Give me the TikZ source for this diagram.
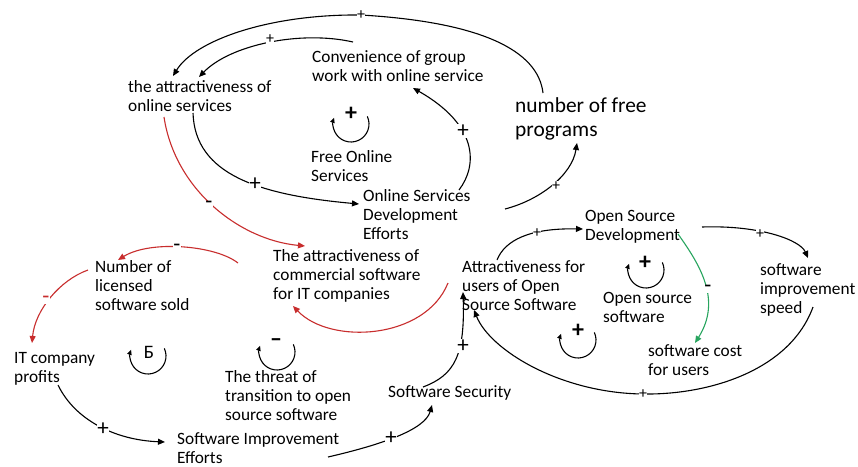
\documentclass[tikz,border=0pt]{standalone}
\usepackage{fontspec}
\setmainfont{Carlito}
\usetikzlibrary{arrows.meta}
\definecolor{cldred}{RGB}{200,45,45}
\definecolor{cldgreen}{RGB}{40,165,95}
\begin{document}
\begin{tikzpicture}[x=1pt,y=-1pt,
  lbl/.style={anchor=west,align=left,inner sep=0pt,font=\fontsize{17.3}{19}\selectfont},
  biglbl/.style={anchor=west,align=left,inner sep=0pt,font=\fontsize{21.4}{24}\selectfont},
  conn/.style={line width=1.1pt,-{Triangle[length=7pt,width=6pt]}},
  redconn/.style={conn,draw=cldred,fill=none},
  greenconn/.style={conn,draw=cldgreen},
  sgn/.style={fill=white,inner sep=0.5pt,font=\fontsize{23}{23}\selectfont},
  smallsgn/.style={fill=white,inner sep=0.5pt,font=\fontsize{16}{16}\selectfont},
  loopc/.style={line width=1.1pt,-{Triangle[length=5pt,width=4.5pt]}},
  loopsgn/.style={inner sep=0pt,font=\fontsize{24}{24}\selectfont\bfseries}
]
\fill[white] (0,0) rectangle (858,466);
\useasboundingbox (0,0) rectangle (858,466);

% variables
\node[lbl] (aos) at (128,96) {the attractiveness of\\online services};
\node[lbl] (conv) at (312,66) {Convenience of group\\work with online service};
\node[lbl] (fos) at (311,166.5) {Free Online\\Services};
\node[biglbl] (nfp) at (515,119) {number of free\\programs};
\node[lbl] (osde) at (363,215) {Online Services\\Development\\Efforts};
\node[lbl] (acs) at (273,276) {The attractiveness of\\commercial software\\for IT companies};
\node[lbl] (nls) at (95,286) {Number of\\licensed\\software sold};
\node[lbl] (itp) at (14,369) {IT company\\profits};
\node[lbl] (thr) at (225,396) {The threat of\\transition to open\\source software};
\node[lbl] (sie) at (177,448.5) {Software Improvement\\Efforts};
\node[lbl] (ss) at (388,393) {Software Security};
\node[lbl] (afu) at (462,286) {Attractiveness for\\users of Open\\Source Software};
\node[lbl] (osd) at (585,227) {Open Source\\Development};
\node[lbl] (oss) at (603,307) {Open source\\software};
\node[lbl] (scu) at (648,360) {software cost\\for users};
\node[lbl] (sis) at (760,290) {software\\improvement\\speed};

% connector end points
\coordinate (nfpTop) at (543,93);
\coordinate (topMid) at (361,15);
\coordinate (aosIn1) at (173,76);
\coordinate (convOut) at (353,42);
\coordinate (aosIn2) at (199,77);
\coordinate (aosOut1) at (193,113);
\coordinate (osdeIn) at (359,204);
\coordinate (osdeOut1) at (459,190);
\coordinate (convIn) at (413,88);
\coordinate (osdeOut2) at (505,209);
\coordinate (nfpIn) at (577,143);
\coordinate (aosOut2) at (164,117);
\coordinate (acsIn1) at (305,246);
\coordinate (acsOut) at (238,263);
\coordinate (nlsIn) at (118,260);
\coordinate (nlsOut) at (88,270);
\coordinate (itpIn) at (32,343);
\coordinate (itpOut) at (58,385);
\coordinate (sieIn) at (165,442);
\coordinate (sieOut) at (328,457);
\coordinate (ssIn) at (432,405);
\coordinate (ssOut) at (423,387);
\coordinate (afuIn1) at (463,292);
\coordinate (afuOut1) at (448,283);
\coordinate (acsIn2) at (293,306);
\coordinate (afuOut2) at (497,260);
\coordinate (osdIn) at (583,229);
\coordinate (osdOut1) at (702,227);
\coordinate (sisIn) at (808,258);
\coordinate (sisOut) at (813,307);
\coordinate (botMid) at (643,394);
\coordinate (afuIn2) at (474,310);
\coordinate (osdOut2) at (678,234);
\coordinate (scuIn) at (695,343);

% black connectors
\draw[conn] (nfpTop) .. controls (538,50) and (480,22) .. (topMid)
  .. controls (270,14) and (195,40) .. (aosIn1);
\draw[conn] (convOut) .. controls (300,30) and (230,45) .. (aosIn2);
\draw[conn] (aosOut1) .. controls (195,175) and (260,195) .. (osdeIn);
\draw[conn] (osdeOut1) .. controls (478,165) and (478,125) .. (convIn);
\draw[conn] (osdeOut2) .. controls (540,200) and (572,175) .. (nfpIn);
\draw[conn] (itpOut) .. controls (75,420) and (115,440) .. (sieIn);
\draw[conn] (sieOut) .. controls (380,445) and (425,430) .. (ssIn);
\draw[conn] (ssOut) .. controls (455,375) and (465,355) .. (afuIn1);
\draw[conn] (afuOut2) .. controls (505,240) and (530,228) .. (osdIn);
\draw[conn] (osdOut1) .. controls (760,225) and (800,240) .. (sisIn);
\draw[conn] (sisOut) .. controls (790,370) and (710,395) .. (botMid)
  .. controls (560,393) and (490,350) .. (afuIn2);

% red connectors
\draw[redconn] (aosOut2) .. controls (175,190) and (240,240) .. (acsIn1);
\draw[redconn] (acsOut) .. controls (215,245) and (150,240) .. (nlsIn);
\draw[redconn] (nlsOut) .. controls (60,280) and (35,310) .. (itpIn);
\draw[redconn] (afuOut1) .. controls (425,340) and (330,345) .. (acsIn2);

% green connector
\draw[greenconn] (osdOut2) .. controls (700,265) and (722,300) .. (scuIn);

% polarity signs
\node[smallsgn] (s1) at (361,15) {+};
\node[smallsgn] (s2) at (270,39) {+};
\node[sgn] (s3) at (255,184) {+};
\node[sgn] (s4) at (463,131) {+};
\node[smallsgn] (s5) at (556,186) {+};
\node[sgn] (s6) at (209,205) {-};
\node[sgn] (s7) at (177,248) {-};
\node[sgn,text=cldred] (s8) at (46,300) {-};
\node[sgn] (s9) at (103,429) {+};
\node[sgn] (s10) at (391,438) {+};
\node[sgn] (s11) at (463,346) {+};
\node[smallsgn] (s12) at (537,233) {+};
\node[smallsgn] (s13) at (760,234) {+};
\node[smallsgn] (s14) at (643,394) {+};
\node[sgn] (s15) at (708,289) {-};

% loop markers
\draw[loopc] (351,124) ++(-25:18) arc[start angle=-25,end angle=200,radius=18];
\node[loopsgn] (l1) at (351,114) {+};
\draw[loopc] (148,356) ++(-25:18) arc[start angle=-25,end angle=200,radius=18];
\node[inner sep=0pt,font=\fontsize{19}{19}\selectfont] (l2) at (149,352) {Б};
\draw[loopc] (277,352) ++(-25:18) arc[start angle=-25,end angle=200,radius=18];
\node[loopsgn] (l3) at (276,343) {–};
\draw[loopc] (646,270) ++(-25:18) arc[start angle=-25,end angle=200,radius=18];
\node[loopsgn] (l4) at (645,263) {+};
\draw[loopc] (578,340) ++(-25:18) arc[start angle=-25,end angle=200,radius=18];
\node[loopsgn] (l5) at (578,331) {+};
\end{tikzpicture}
\end{document}
